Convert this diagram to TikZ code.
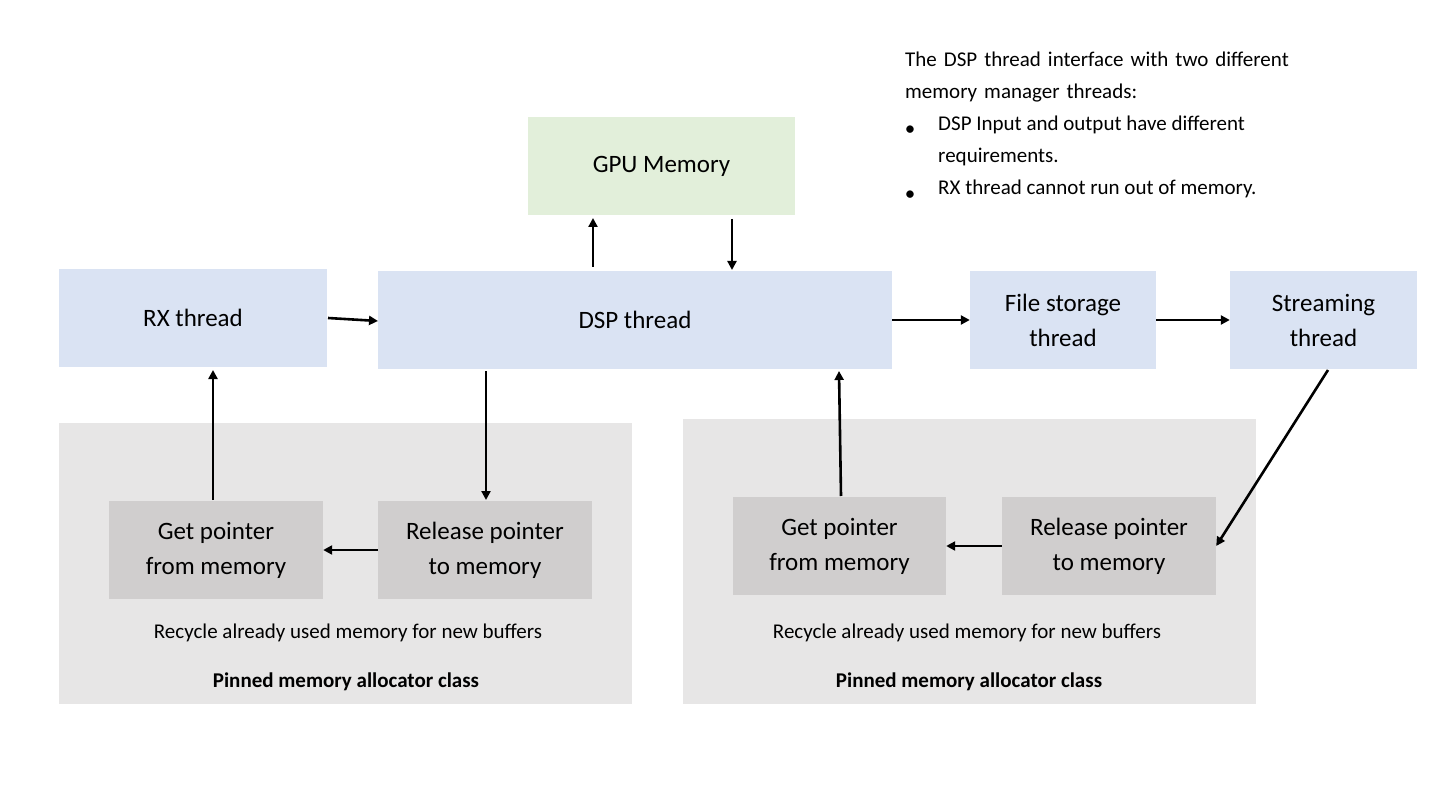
\documentclass[tikz,border=0pt]{standalone}
\usepackage{fontspec}
\setmainfont{Carlito}
\usetikzlibrary{arrows.meta}
\definecolor{bl}{HTML}{DAE3F3}
\definecolor{gr}{HTML}{E2EFDA}
\definecolor{pan}{HTML}{E7E6E6}
\definecolor{inn}{HTML}{D0CECE}
\begin{document}
\begin{tikzpicture}[x=1pt,y=-1pt,
 box/.style={draw=none,inner sep=0pt,align=center,font=\fontsize{25}{35}\selectfont},
 arr/.style={line width=2.6pt,-{Triangle[length=9pt,width=9pt]}},
 sm/.style={font=\fontsize{21}{26}\selectfont,inner sep=0pt}]
\useasboundingbox (0,0) rectangle (1440,810);
\fill[pan] (59,423) rectangle (632,704);
\fill[pan] (683,419) rectangle (1256,704);
\node[box,fill=gr,minimum width=267pt,minimum height=98pt] (gpu) at (661.5,166) {GPU Memory};
\node[box,fill=bl,minimum width=268pt,minimum height=98pt] (rx) at (193,318) {RX thread};
\node[box,fill=bl,minimum width=514pt,minimum height=98pt] (dsp) at (635,320) {DSP thread};
\node[box,fill=bl,minimum width=186pt,minimum height=98pt] (fs) at (1063,320) {File storage\\thread};
\node[box,fill=bl,minimum width=187pt,minimum height=98pt] (st) at (1323.5,320) {Streaming\\thread};
\node[box,fill=inn,minimum width=214pt,minimum height=98pt] (lg) at (216,550) {Get pointer\\from memory};
\node[box,fill=inn,minimum width=214pt,minimum height=98pt] (lr) at (485,550) {Release pointer\\to memory};
\node[box,fill=inn,minimum width=213pt,minimum height=98pt] (rg) at (839.5,546) {Get pointer\\from memory};
\node[box,fill=inn,minimum width=214pt,minimum height=98pt] (rr) at (1109,546) {Release pointer\\to memory};
\node[sm] (lrec) at (348,633) {Recycle already used memory for new buffers};
\node[sm,font=\fontsize{21}{26}\selectfont\bfseries] (lpin) at (346,682) {Pinned memory allocator class};
\node[sm] (rrec) at (967,633) {Recycle already used memory for new buffers};
\node[sm,font=\fontsize{21}{26}\selectfont\bfseries] (rpin) at (969,682) {Pinned memory allocator class};
\node[sm,anchor=north west,align=left,text width=490pt,font=\fontsize{21}{32}\selectfont] (note) at (905,52) {The DSP thread interface with two different\\memory manager threads:};
\node[sm,anchor=north west,align=left,font=\fontsize{21}{32}\selectfont] (b1) at (938,116) {DSP Input and output have different\\requirements.};
\node[sm,anchor=north west,align=left,font=\fontsize{21}{32}\selectfont] (b2) at (938,180) {RX thread cannot run out of memory.};
\node[sm] (d1) at (910,131) {•};
\node[sm] (d2) at (910,196) {•};
\coordinate (a1) at (328,318); \coordinate (a2) at (378,321);
\draw[arr] (a1) -- (a2);
\draw[arr] (593,267) -- (593,218);
\draw[arr] (732,219) -- (732,270);
\draw[arr] (dsp.east) -- (fs.west);
\draw[arr] (fs.east) -- (st.west);
\draw[arr] (1328,370) -- (rr.east);
\draw[arr] (486,371) -- (486,500);
\draw[arr] (lr.west) -- (lg.east);
\draw[arr] (213,500) -- (213,370);
\draw[arr] (rr.west) -- (rg.east);
\draw[arr] (841,496) -- (839,371);
\end{tikzpicture}
\end{document}
